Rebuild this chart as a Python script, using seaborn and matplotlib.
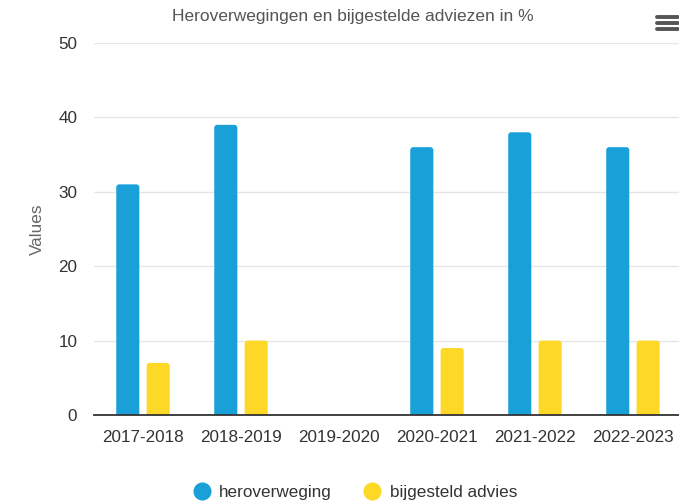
import pandas as pd
import matplotlib
matplotlib.use("Agg")
import matplotlib.pyplot as plt
import seaborn as sns
from matplotlib.lines import Line2D
from matplotlib.patches import FancyBboxPatch

# data
years = ["2017-2018", "2018-2019", "2019-2020", "2020-2021", "2021-2022", "2022-2023"]
heroverweging = [31, 39, 0, 36, 38, 36]
bijgesteld_advies = [7, 10, 0, 9, 10, 10]
series_names = ["heroverweging", "bijgesteld advies"]
colors = ["#19a0d8", "#fdd826"]

df = pd.DataFrame({
    "year": years * 2,
    "value": heroverweging + bijgesteld_advies,
    "serie": [series_names[0]] * len(years) + [series_names[1]] * len(years),
})

sns.set_theme(style="white")
plt.rcParams["font.family"] = ["Liberation Sans", "DejaVu Sans"]

W, H = 679, 503
fig = plt.figure(figsize=(W / 100, H / 100), dpi=100)
# axes placed in pixels: left 94, right 679 (chart is clipped on the right), top 43, bottom 415
ax = fig.add_axes([94 / W, 1 - 415 / H, (679 - 94) / W, (415 - 43) / H])

sns.barplot(data=df, x="year", y="value", hue="serie", order=years,
            hue_order=series_names, palette=colors, width=0.62, gap=0.24,
            saturation=1, legend=False, ax=ax, zorder=3)

ax.set_ylim(0, 50)
ax.set_xlim(-0.5, 5.47)

# swap the square bars for bars with slightly rounded tops
xpx = 5.97 / 585
ypx = 50 / 372
for p in list(ax.patches):
    x, w, h = p.get_x(), p.get_width(), p.get_height()
    fc = p.get_facecolor()
    p.remove()
    if h <= 0:
        continue
    r = 3 * xpx
    rb = FancyBboxPatch((x, -4 * ypx), w, h + 4 * ypx,
                        boxstyle=f"round,pad=0,rounding_size={r}",
                        mutation_aspect=ypx / xpx, facecolor=fc,
                        edgecolor="none", zorder=3)
    ax.add_patch(rb)

ax.set_yticks(range(0, 51, 10))
ax.yaxis.grid(True, color="#e6e6e6", linewidth=1, zorder=0)
ax.xaxis.grid(False)
for side in ["top", "right", "left"]:
    ax.spines[side].set_visible(False)
ax.spines["bottom"].set_color("#333333")
ax.spines["bottom"].set_linewidth(1.3)
ax.spines["bottom"].set_zorder(4)

fs = 12.3
ax.tick_params(axis="x", length=0, pad=11, labelsize=fs, labelcolor="#333333")
ax.tick_params(axis="y", length=0, pad=12, labelsize=fs, labelcolor="#333333")
ax.set_xlabel("")
ax.set_ylabel("Values", fontsize=fs, color="#666666", labelpad=10)

fig.text(353 / W, 1 - 16 / H, "Heroverwegingen en bijgestelde adviezen in %",
         ha="center", va="center", fontsize=12.5, color="#555555")

# legend at the bottom
handles = [Line2D([], [], marker="o", linestyle="", markersize=12,
                  markerfacecolor=c, markeredgecolor=c) for c in colors]
fig.legend(handles, series_names, loc="center", bbox_to_anchor=(355 / W, 1 - 492 / H),
           ncol=2, frameon=False, fontsize=fs, handlelength=1.0, handletextpad=0.5,
           columnspacing=1.9, labelcolor="#333333")

# menu icon (three bars) in the top right corner
for yy in [17, 23, 29]:
    fig.add_artist(Line2D([657 / W, 678 / W], [1 - yy / H, 1 - yy / H],
                          color="#555555", linewidth=2.8, solid_capstyle="round"))

fig.savefig("out.png", dpi=100)
